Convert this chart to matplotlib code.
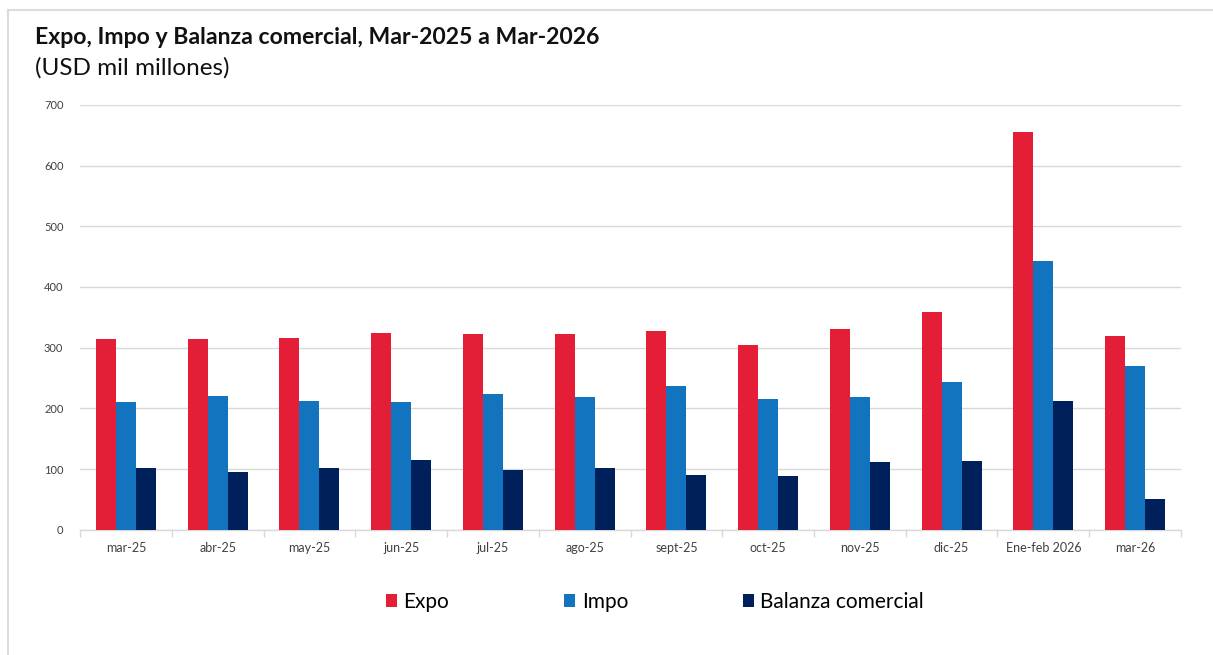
import matplotlib.pyplot as plt
import numpy as np
from matplotlib.patches import Patch
from matplotlib.lines import Line2D

plt.rcParams['font.family'] = ['Lato', 'DejaVu Sans']

# months shown on the x axis
months = ["mar-25", "abr-25", "may-25", "jun-25", "jul-25", "ago-25",
          "sept-25", "oct-25", "nov-25", "dic-25", "Ene-feb 2026", "mar-26"]
# USD mil millones
expo = [314, 315, 316, 325, 322, 322, 328, 305, 330, 358, 656, 320]
impo = [211, 220, 212, 210, 223, 219, 237, 215, 219, 244, 442, 270]
balanza = [102, 96, 102, 115, 98, 102, 91, 89, 111, 113, 213, 51]

series_names = ["Expo", "Impo", "Balanza comercial"]
colors = ["#E31E36", "#1273BF", "#00205C"]
grid_color = "#d9d9d9"

fig = plt.figure(figsize=(12.13, 6.55), dpi=100)
ax = fig.add_axes([0.066, 0.191, 0.9076, 0.649])

x = np.arange(len(months))
w = 0.218
for k, vals in enumerate([expo, impo, balanza]):
    ax.bar(x + (k - 1) * w, vals, width=w, color=colors[k], linewidth=0, zorder=3)

ax.set_ylim(0, 700)
ax.set_xlim(-0.5, len(months) - 0.5)
ax.set_yticks(range(0, 701, 100))
ax.yaxis.grid(True, color=grid_color, linewidth=1, zorder=0)
ax.tick_params(axis='y', length=0, pad=12, labelsize=8, labelcolor="#404040")

ax.set_xticks(x)
ax.set_xticklabels(months)
ax.tick_params(axis='x', which='major', length=0, pad=9, labelsize=9, labelcolor="#404040")
ax.set_xticks(np.arange(-0.5, len(months), 1), minor=True)
ax.tick_params(axis='x', which='minor', length=5, width=1, color=grid_color)

for s in ["top", "right", "left"]:
    ax.spines[s].set_visible(False)
ax.spines["bottom"].set_color(grid_color)
ax.spines["bottom"].set_linewidth(1)

# title and subtitle
fig.text(35 / 1213, 1 - 38 / 655, "Expo, Impo y Balanza comercial, Mar-2025 a Mar-2026",
         fontsize=16.6, fontweight="bold", color="#111111", va="center", ha="left")
fig.text(35 / 1213, 1 - 68 / 655, "(USD mil millones)",
         fontsize=17.5, color="#111111", va="center", ha="left")

# legend
handles = [Patch(facecolor=c, edgecolor="none") for c in colors]
fig.legend(handles, series_names, loc="center", bbox_to_anchor=(655 / 1213, 1 - 602 / 655),
           ncol=3, frameon=False, fontsize=15, handlelength=0.55, handleheight=0.55,
           handletextpad=0.3, columnspacing=5.5)

# light frame around the chart
fig.add_artist(Line2D([8 / 1213, 8 / 1213], [0, 1 - 10 / 655], color="#dcdcdc", linewidth=1.5,
                      transform=fig.transFigure))
fig.add_artist(Line2D([8 / 1213, 1], [1 - 10 / 655, 1 - 10 / 655], color="#dcdcdc", linewidth=1.5,
                      transform=fig.transFigure))

fig.savefig("out.png", dpi=100, facecolor="white")
